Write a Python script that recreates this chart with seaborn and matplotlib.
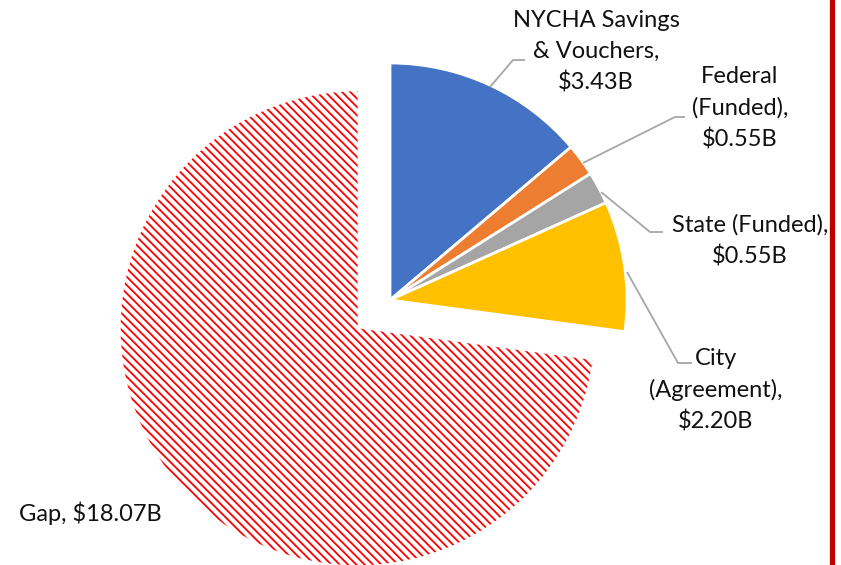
import matplotlib
matplotlib.use("Agg")
import matplotlib.pyplot as plt
import seaborn as sns

# Funding sources (billions of dollars), clockwise from 12 o'clock
labels = ["NYCHA Savings\n& Vouchers,", "Federal\n(Funded),", "State (Funded),", "City\n(Agreement),", "Gap,"]
values = [3.43, 0.55, 0.55, 2.20, 18.07]
colors = ["#4472C4", "#ED7D31", "#A5A5A5", "#FFC000", "#FFFFFF"]

sns.set_theme(style="white")
plt.rcParams["font.family"] = ["Lato", "DejaVu Sans"]
plt.rcParams["hatch.linewidth"] = 1.3

W, H = 841, 565
fig = plt.figure(figsize=(W / 100, H / 100), dpi=100)
ax = fig.add_axes([0, 0, 1, 1])

# explode is in data units here (pixels), only the gap is pulled out
wedges, _ = ax.pie(values, colors=colors, explode=[0, 0, 0, 0, 43], startangle=90,
                   counterclock=False, center=(390, H - 300), radius=237,
                   wedgeprops=dict(edgecolor="white", linewidth=2))

# the unfunded gap is drawn as red diagonal hatching on white
gap = wedges[-1]
gap.set_edgecolor("#FF0000")
gap.set_linewidth(0)
gap.set_hatch("\\\\\\\\")

ax.set_xlim(0, W)
ax.set_ylim(0, H)
ax.axis("off")

# data labels with leader lines (pixel positions from the top-left corner)
label_pos = [(596, 52), (740, 108), (750, 241), (716, 390), (90, 513)]
leaders = [
    [(490, 87), (513, 60), (525, 60)],
    [(583, 163), (675, 117), (685, 117)],
    [(601, 192), (650, 232), (663, 232)],
    [(627, 272), (678, 363), (692, 363)],
    None,
]
for lab, val, (x, y), pts in zip(labels, values, label_pos, leaders):
    text = f"{lab}\n${val:.2f}B" if lab != "Gap," else f"{lab} ${val:.2f}B"
    ax.text(x, H - y, text, ha="center", va="center", fontsize=17,
            color="#111111", linespacing=1.55)
    if pts:
        ax.plot([p[0] for p in pts], [H - p[1] for p in pts],
                color="#A6A6A6", lw=1.3, solid_capstyle="butt")

# red rule on the right edge
ax.plot([832.5, 832.5], [0, H], color="#C00000", lw=3.8)

fig.savefig("out.png", dpi=100)
